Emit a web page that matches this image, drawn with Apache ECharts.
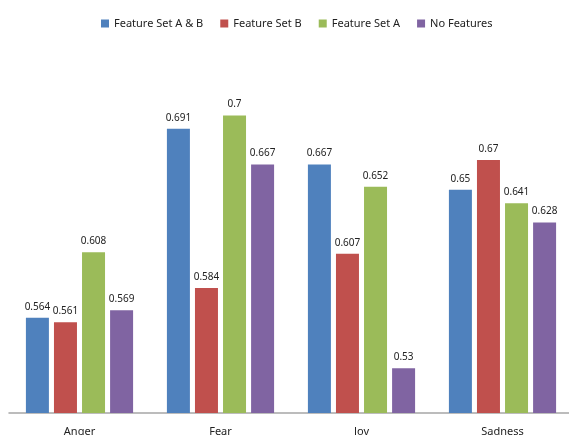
<!DOCTYPE html>
<html>
<head>
<meta charset="utf-8">
<script src="https://cdn.jsdelivr.net/npm/echarts@6/dist/echarts.min.js"></script>
<style>
html, body { margin: 0; padding: 0; background: #fff; }
#main { width: 569px; height: 435px; }
</style>
</head>
<body>
<div id="main"></div>
<script>
var categories = ['Anger', 'Fear', 'Joy', 'Sadness'];
var seriesNames = ['Feature Set A & B', 'Feature Set B', 'Feature Set A', 'No Features'];
var setAB = [0.564, 0.691, 0.667, 0.65];
var setB = [0.561, 0.584, 0.607, 0.67];
var setA = [0.608, 0.7, 0.652, 0.641];
var noFeatures = [0.569, 0.667, 0.53, 0.628];
var colors = ['#4F81BD', '#C0504D', '#9BBB59', '#8064A2'];

var allData = [setAB, setB, setA, noFeatures];
var font = 'Noto Sans';

var series = [];
for (var i = 0; i < allData.length; i++) {
    series.push({
        name: seriesNames[i],
        type: 'bar',
        data: allData[i],
        barWidth: 23,
        barGap: '22%',
        itemStyle: { color: colors[i] },
        label: {
            show: true,
            position: 'top',
            distance: 6,
            color: '#222',
            fontSize: 10,
            fontFamily: font
        }
    });
}

var option = {
    animation: false,
    color: colors,
    legend: {
        top: 13,
        left: 96,
        itemWidth: 8,
        itemHeight: 8,
        itemGap: 17,
        icon: 'rect',
        textStyle: { color: '#222', fontSize: 11, fontFamily: font },
        data: seriesNames
    },
    grid: { left: 9, width: 564, top: 41, bottom: 22, outerBoundsMode: 'none', containLabel: false },
    xAxis: {
        type: 'category',
        data: categories,
        axisLine: { lineStyle: { color: '#A6A6A6', width: 1.5 } },
        axisTick: { show: false },
        axisLabel: { color: '#222', fontSize: 11, fontFamily: font, margin: 13 }
    },
    yAxis: {
        type: 'value',
        min: 0.5,
        max: 0.75,
        show: false,
        splitLine: { show: false }
    },
    series: series
};

var chart = echarts.init(document.getElementById('main'));
chart.setOption(option);
</script>
</body>
</html>
